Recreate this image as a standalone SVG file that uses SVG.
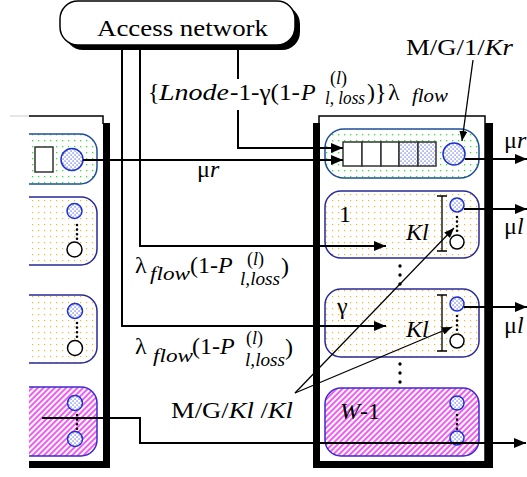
<svg xmlns="http://www.w3.org/2000/svg" width="527" height="477" viewBox="0 0 527 477">
<style>
text{font-family:"Liberation Serif","Times New Roman",serif;fill:#000}
.t24{font-size:24px}
.sm{font-size:18px}
.it{font-style:italic}
.wire{fill:none;stroke:#000;stroke-width:2}
.thin{fill:none;stroke:#000;stroke-width:1.3}
.bar{fill:#000}
.frame{fill:#fff;stroke:#000;stroke-width:1.5}
.bg{fill:url(#greenDots);stroke:#1f4e9c;stroke-width:1.5}
.bo{fill:url(#orangeDots);stroke:#2a2a96;stroke-width:1.5}
.bp{fill:url(#hatch);stroke:#3a2ad0;stroke-width:1.5}
.srv{fill:url(#blueDots);stroke:#1d2fd0;stroke-width:1.5}
.idle{fill:#fff;stroke:#000;stroke-width:1.5}
.cell{fill:#fff;stroke:#333;stroke-width:1.5}
.cellb{fill:url(#blueDots);stroke:#333;stroke-width:1.5}
.dots{fill:none;stroke:#000;stroke-width:2.6;stroke-linecap:round;stroke-dasharray:0 4.6}
.vdots{fill:none;stroke:#000;stroke-width:3.4;stroke-linecap:round;stroke-dasharray:0 9}
</style>
<defs>
  <pattern id="greenDots" width="6" height="6" patternUnits="userSpaceOnUse">
    <rect width="6" height="6" fill="#fff"/>
    <rect x="2" y="2" width="1.3" height="1.3" fill="#2ee82e"/>
  </pattern>
  <pattern id="orangeDots" width="6" height="6" patternUnits="userSpaceOnUse">
    <rect width="6" height="6" fill="#fff"/>
    <rect x="2" y="2" width="1.2" height="1.2" fill="#ffb02a"/>
  </pattern>
  <pattern id="blueDots" width="4" height="4" patternUnits="userSpaceOnUse">
    <rect width="4" height="4" fill="#fff"/>
    <rect x="0.5" y="0.5" width="1.1" height="1.1" fill="#2a3fd6"/>
    <rect x="2.5" y="2.5" width="1.1" height="1.1" fill="#2a3fd6"/>
  </pattern>
  <pattern id="hatch" width="4" height="4" patternUnits="userSpaceOnUse" patternTransform="rotate(45)">
    <rect width="4" height="4" fill="#fff"/>
    <line x1="1" y1="0" x2="1" y2="4" stroke="#ee22ee" stroke-width="1.5"/>
  </pattern>
  <marker id="ah" viewBox="0 0 12 10" refX="12" refY="5" markerWidth="12" markerHeight="10" markerUnits="userSpaceOnUse" orient="auto">
    <path d="M0,0L12,5L0,10z" fill="#000"/>
  </marker>
  <marker id="ahs" viewBox="0 0 10 8" refX="10" refY="4" markerWidth="10" markerHeight="8" markerUnits="userSpaceOnUse" orient="auto">
    <path d="M0,0L10,4L0,8z" fill="#000"/>
  </marker>
  <clipPath id="clipL">
    <rect x="29" y="105" width="85" height="370"/>
  </clipPath>
</defs>

<!-- access network -->
<g id="access">
  <rect x="65" y="6" width="235" height="44" rx="18" fill="#000"/>
  <rect x="60" y="1" width="235" height="44" rx="18" fill="#fff" stroke="#000" stroke-width="1.5"/>
  <text class="t24" x="97" y="36" textLength="171" lengthAdjust="spacingAndGlyphs">Access network</text>
</g>

<!-- left (neighbouring) node, partly shown -->
<g id="leftNode">
  <line x1="10" y1="116" x2="30" y2="116" stroke="#ddd" stroke-width="1.5"/>
  <polyline points="29,116 103,116 103,124" fill="none" stroke="#000" stroke-width="1.5"/>
  <rect class="bar" x="103" y="123" width="7" height="345"/>
  <rect class="bar" x="29" y="461" width="81" height="7"/>
  <g clip-path="url(#clipL)">
    <rect class="bg" x="-20" y="134" width="117" height="50" rx="17"/>
    <rect class="cell" x="35" y="147" width="18" height="25"/>
    <circle class="srv" cx="72" cy="159.5" r="11"/>
    <rect class="bo" x="-20" y="197" width="117" height="68" rx="16"/>
    <circle class="srv" cx="74.5" cy="211" r="7.5"/>
    <line class="dots" x1="77" y1="225" x2="77" y2="239"/>
    <circle class="idle" cx="74.5" cy="249.5" r="7.5"/>
    <rect class="bo" x="-20" y="295" width="117" height="68" rx="16"/>
    <circle class="srv" cx="75" cy="311" r="7.5"/>
    <line class="dots" x1="77" y1="323" x2="77" y2="337"/>
    <circle class="idle" cx="75" cy="348" r="7.5"/>
    <rect class="bp" x="-20" y="387" width="117" height="69" rx="16"/>
    <circle class="srv" cx="75" cy="403" r="7.5"/>
    <line class="dots" x1="77" y1="415" x2="77" y2="429"/>
    <circle class="srv" cx="75" cy="439" r="7.5"/>
  </g>
</g>

<!-- right node -->
<g id="rightNode">
  <rect class="frame" x="319" y="116" width="166" height="346"/>
  <rect class="bar" x="313" y="123" width="7" height="345"/>
  <rect class="bar" x="485" y="123" width="8" height="345"/>
  <rect class="bar" x="313" y="461" width="180" height="7"/>
</g>

<g id="rtQueue">
  <rect class="bg" x="325" y="129" width="154" height="49" rx="19"/>
  <rect class="cell" x="343" y="142" width="19" height="24"/>
  <rect class="cell" x="362" y="142" width="19" height="24"/>
  <rect class="cell" x="381" y="142" width="18" height="24"/>
  <rect class="cellb" x="399" y="142" width="19" height="24"/>
  <rect class="cellb" x="418" y="142" width="18" height="24"/>
  <circle class="srv" cx="454" cy="154" r="11"/>
</g>

<g id="class1">
  <rect class="bo" x="325" y="191" width="154" height="67" rx="16"/>
  <text class="t24" x="339" y="222">1</text>
  <text class="t24 it" x="406" y="240">Kl</text>
  <path class="thin" d="M437,196H447M442,196V251M437,251H447"/>
  <circle class="srv" cx="457" cy="205" r="7"/>
  <line class="dots" x1="457" y1="217" x2="457" y2="231"/>
  <circle class="idle" cx="457" cy="242" r="7"/>
</g>

<g id="classGamma">
  <rect class="bo" x="325" y="289" width="154" height="68" rx="16"/>
  <text class="t24" x="337" y="314">γ</text>
  <text class="t24 it" x="406" y="337">Kl</text>
  <path class="thin" d="M437,295H447M442,295V351M437,351H447"/>
  <circle class="srv" cx="457" cy="304" r="7"/>
  <line class="dots" x1="457" y1="316" x2="457" y2="330"/>
  <circle class="idle" cx="457" cy="341" r="7"/>
</g>

<g id="classW">
  <rect class="bp" x="325" y="388" width="154" height="68" rx="16"/>
  <text class="t24" x="340" y="419"><tspan class="it">W</tspan>-1</text>
  <circle class="srv" cx="457" cy="403" r="7"/>
  <line class="dots" x1="457" y1="415" x2="457" y2="429"/>
  <circle class="srv" cx="457" cy="438" r="7"/>
</g>

<g id="ellipses">
  <line class="vdots" x1="400" y1="266" x2="400" y2="285"/>
  <line class="vdots" x1="400" y1="364" x2="400" y2="383"/>
</g>

<!-- connectors -->
<g id="connectors">
  <polyline class="wire" points="122,50 122,326 386,326" marker-end="url(#ah)"/>
  <polyline class="wire" points="140,50 140,246 386,246" marker-end="url(#ah)"/>
  <polyline class="wire" points="238,50 238,148 343,148" marker-end="url(#ah)"/>
  <line class="wire" x1="83" y1="160" x2="343" y2="160" marker-end="url(#ah)"/>
  <line class="wire" x1="465" y1="159" x2="527" y2="159" marker-end="url(#ah)"/>
  <line class="wire" x1="464" y1="209" x2="527" y2="209" marker-end="url(#ah)"/>
  <line class="wire" x1="464" y1="307" x2="527" y2="307" marker-end="url(#ah)"/>
  <polyline class="wire" points="42,418 140,418 140,443 526,443" marker-end="url(#ah)"/>
  <line class="thin" x1="473" y1="60" x2="462" y2="141" marker-end="url(#ahs)"/>
  <line class="thin" x1="295" y1="393" x2="454" y2="228" marker-end="url(#ahs)"/>
  <line class="thin" x1="295" y1="393" x2="452" y2="327" marker-end="url(#ahs)"/>
</g>

<!-- labels -->
<g id="labels">
  <rect x="144" y="79" width="312" height="31" fill="#fff"/>
  <text class="t24" x="148" y="100">{</text>
  <text class="t24 it" x="159" y="100" textLength="70" lengthAdjust="spacingAndGlyphs">Lnode</text>
  <text class="t24" x="230" y="100" textLength="70" lengthAdjust="spacingAndGlyphs">-1-γ(1-</text>
  <text class="t24 it" x="301" y="100">P</text>
  <text class="sm" x="330" y="84">(<tspan class="it">l</tspan>)</text>
  <text class="sm it" x="325" y="104" textLength="40" lengthAdjust="spacingAndGlyphs">l, loss</text>
  <text class="t24" x="367" y="100">)}</text>
  <text class="t24" x="388" y="100">λ</text>
  <text class="sm it" x="412" y="102" textLength="36" lengthAdjust="spacingAndGlyphs">flow</text>

  <text class="t24" x="406" y="55" textLength="107" lengthAdjust="spacingAndGlyphs">M/G/1/<tspan class="it">Kr</tspan></text>
  <text class="t24" x="504" y="148">μ<tspan class="it">r</tspan></text>
  <text class="t24" x="197" y="177">μ<tspan class="it">r</tspan></text>
  <text class="t24" x="504" y="234">μ<tspan class="it">l</tspan></text>
  <text class="t24" x="504" y="333">μ<tspan class="it">l</tspan></text>

  <text class="t24" x="135" y="273">λ</text>
  <text class="sm it" x="150" y="280" textLength="40" lengthAdjust="spacingAndGlyphs">flow</text>
  <text class="t24" x="190" y="273">(1-<tspan class="it">P</tspan></text>
  <text class="sm" x="247" y="265">(<tspan class="it">l</tspan>)</text>
  <text class="sm it" x="240" y="285" textLength="40" lengthAdjust="spacingAndGlyphs">l,loss</text>
  <text class="t24" x="281" y="274">)</text>

  <text class="t24" x="135" y="354">λ</text>
  <text class="sm it" x="153" y="362" textLength="40" lengthAdjust="spacingAndGlyphs">flow</text>
  <text class="t24" x="192" y="354">(1-<tspan class="it">P</tspan></text>
  <text class="sm" x="246" y="344">(<tspan class="it">l</tspan>)</text>
  <text class="sm it" x="245" y="366" textLength="40" lengthAdjust="spacingAndGlyphs">l,loss</text>
  <text class="t24" x="285" y="355">)</text>

  <text class="t24" x="171" y="418" textLength="122" lengthAdjust="spacingAndGlyphs">M/G/<tspan class="it">Kl</tspan> /<tspan class="it">Kl</tspan></text>
</g>
</svg>
